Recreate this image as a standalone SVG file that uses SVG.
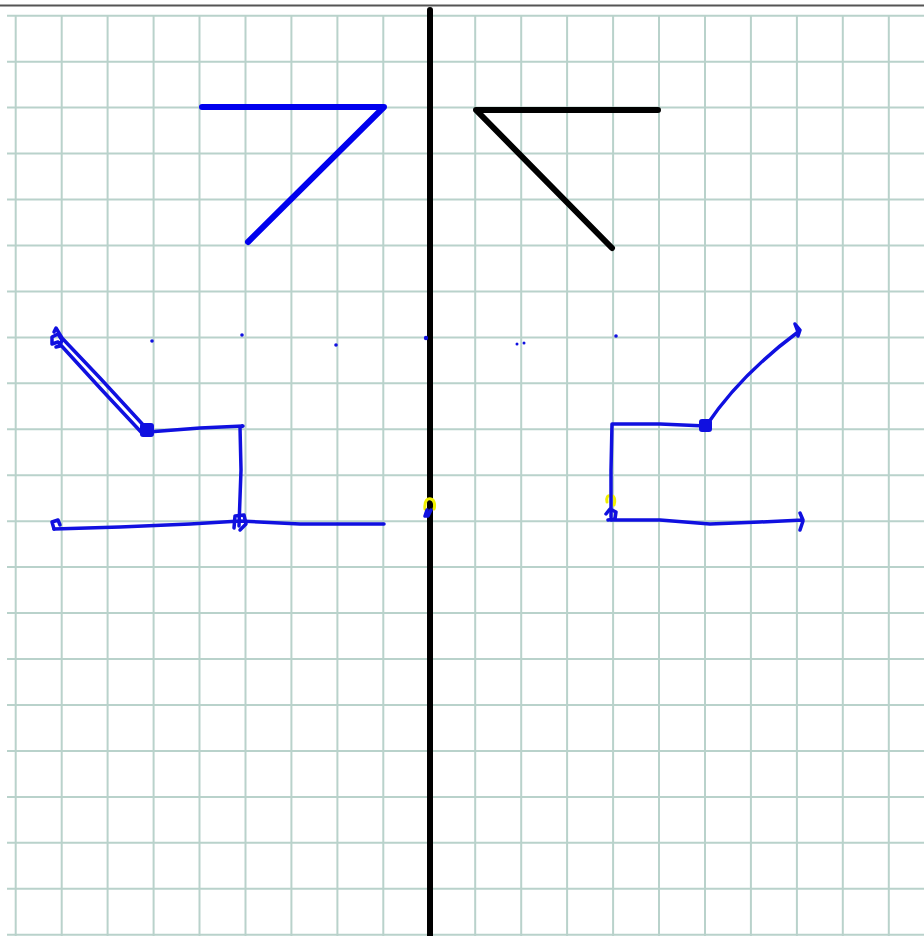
<svg xmlns="http://www.w3.org/2000/svg" width="924" height="936" viewBox="0 0 924 936">
<defs>
<style>
.g{stroke:#b9d2cb;stroke-width:2;fill:none}
.k{stroke:#000;stroke-width:6;stroke-linecap:round;stroke-linejoin:round;fill:none}
.b{stroke:#0000ee;stroke-width:6;stroke-linecap:round;stroke-linejoin:round;fill:none}
.h{stroke:#1010e0;stroke-width:3.5;stroke-linecap:round;stroke-linejoin:round;fill:none}
.d{fill:#1010e0}
.y{stroke:#f0f000;stroke-width:3;fill:none;stroke-linecap:round}
</style>
</defs>
<rect width="924" height="936" fill="#fff"/>
<g id="grid">
<path class="g" d="M15.7 16V936M61.7 16V936M107.6 16V936M153.6 16V936M199.5 16V936M245.5 16V936M291.4 16V936M337.4 16V936M383.3 16V936M429.3 16V936M475.2 16V936M521.2 16V936M567.1 16V936M613.1 16V936M659 16V936M705 16V936M750.9 16V936M796.9 16V936M842.8 16V936M888.8 16V936"/>
<path class="g" d="M7 15.7H924M7 61.7H924M7 107.6H924M7 153.6H924M7 199.5H924M7 245.5H924M7 291.4H924M7 337.4H924M7 383.3H924M7 429.3H924M7 475.2H924M7 521.2H924M7 567.1H924M7 613.1H924M7 659H924M7 705H924M7 750.9H924M7 796.9H924M7 842.8H924M7 888.8H924M7 934.7H924"/>
</g>
<line x1="0" y1="5.5" x2="924" y2="5.5" stroke="#555" stroke-width="2"/>
<g id="mirror">
<line class="k" x1="430" y1="10" x2="430" y2="940" stroke-width="7"/>
</g>
<g id="shape-blue">
<path class="b" d="M202 107H384L248 242"/>
</g>
<g id="shape-black">
<path class="k" d="M658 110H476L612 248"/>
</g>
<g id="sketch-left">
<path class="h" d="M54 332L56 328L62 338L100 378L146 428M58 342L100 388L141 432M58 342L52 344L52 337L58 334L62 340L60 346L56 347"/>
<rect class="d" x="140" y="423" width="14" height="14" rx="3"/>
<path class="h" d="M148 432L200 428L243 426L240 427L241 470L239 526"/>
<path class="h" d="M54 529L120 527L190 524L240 521L300 524L384 524"/>
<path class="h" d="M54 529L52 522L58 520L60 525M234 528L235 516L244 515L246 524L240 530"/>
<circle class="d" cx="152" cy="341" r="1.8"/>
<circle class="d" cx="242" cy="335" r="1.8"/>
<circle class="d" cx="336" cy="345" r="1.8"/>
<circle class="d" cx="426" cy="338" r="2.2"/>
<circle class="d" cx="517" cy="344" r="1.5"/>
<circle class="d" cx="524" cy="343" r="1.5"/>
<circle class="d" cx="616" cy="336" r="1.8"/>
</g>
<g id="marks">
<path class="y" d="M425 509C424 500 428 498 431 499C435 500 435 506 434 509"/>
<path class="y" d="M607 502C606 497 608 495 610 496M613 496C615 498 615 502 614 505"/>
<path class="h" d="M427 510L425 516L428 516L431 510"/>
</g>
<g id="sketch-right">
<path class="h" d="M611 517L611 470L612 424L660 424L706 426Q740 375 798 332L795 324L800 330L798 336"/>
<rect class="d" x="699" y="419" width="13" height="13" rx="3"/>
<path class="h" d="M611 520L660 520L710 524L760 522L803 520L800 513L803 521L800 530"/>
<path class="h" d="M606 514L610 509L616 512L615 519L608 520"/>
</g>
</svg>
